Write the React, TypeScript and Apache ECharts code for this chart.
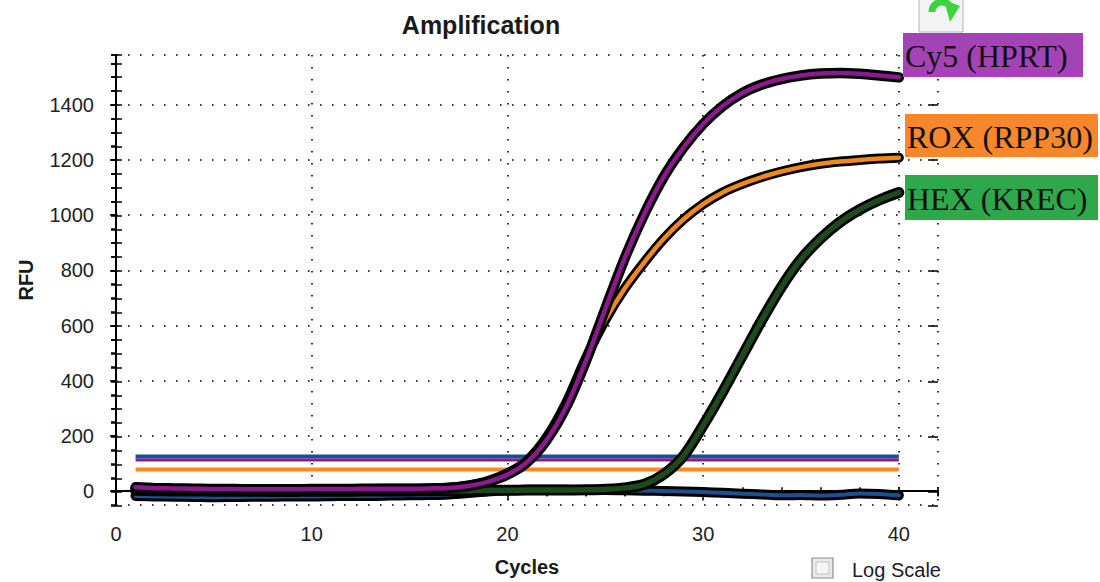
import React, { useEffect, useRef } from "react";
import * as echarts from "echarts";

// ---- data ----
const cycles = [1, 2, 3, 4, 5, 6, 7, 8, 9, 10, 11, 12, 13, 14, 15, 16, 17, 18, 19, 20, 21, 22, 23, 24, 25, 26, 27, 28, 29, 30, 31, 32, 33, 34, 35, 36, 37, 38, 39, 40];
const cy5Hprt = [14, 11, 10, 9, 8, 8, 7, 7, 7, 8, 8, 8, 9, 9, 9, 10, 12, 19, 34, 60, 105, 185, 305, 470, 660, 845, 1005, 1140, 1245, 1330, 1395, 1442, 1473, 1493, 1506, 1513, 1515, 1512, 1506, 1499];
const roxRpp30 = [10, 9, 8, 8, 7, 7, 7, 7, 7, 7, 8, 8, 8, 9, 9, 10, 13, 21, 37, 65, 110, 195, 320, 480, 620, 735, 830, 915, 985, 1040, 1082, 1113, 1138, 1158, 1174, 1186, 1194, 1200, 1205, 1208];
const hexKrec = [3, 2, 1, 1, 0, 0, 0, -1, -1, 0, 0, 0, 1, 1, 1, 2, 2, 2, 3, 3, 4, 4, 4, 5, 7, 12, 25, 62, 128, 238, 360, 490, 620, 740, 840, 915, 975, 1020, 1055, 1082];
const ntcBaseline = [-17, -19, -20, -21, -22, -21, -20, -20, -19, -19, -18, -17, -17, -16, -15, -14, -12, -7, -1, 3, 5, 5, 5, 4, 4, 3, 2, 1, -1, -3, -6, -9, -12, -15, -14, -16, -13, -8, -10, -15];
const thresholdValues = [126, 113, 79]; // blue, purple (Cy5), orange (ROX)
const thresholdSpan = [1, 40];
const labelTexts = ["Cy5 (HPRT)", "ROX (RPP30)", "HEX (KREC)"];
const titleText = "Amplification";
const xName = "Cycles";
const yName = "RFU";
const xRange = [0, 42];
const yRange = [-50, 1580];

// ---- styles ----
const thresholdColors = ["#1d4f8c", "#8c1a8e", "#ff8a1c"];
const thresholdWidths = [4, 3, 4];
const labelBoxColors = ["#a343b5", "#f7872d", "#2ea84b"];
const labelBoxes = [
  { x: 903, y: 33, w: 180, h: 44 },
  { x: 905, y: 114, w: 193, h: 43 },
  { x: 905, y: 175, w: 193, h: 45 },
];

const GRID = { left: 116, top: 55, right: 162, bottom: 76 };
const SANS = '"Liberation Sans", Arial, sans-serif';
const dotted = { color: "#000", width: 1.6, type: [1.6, 10.4] as any };

function pair(name: string, values: number[], inner: string, outerW: number, innerW: number, z: number) {
  const data = cycles.map((c, i) => [c, values[i]]);
  return [
    {
      name: name + "-outline",
      type: "line",
      data,
      smooth: 0.3,
      symbol: "none",
      silent: true,
      z,
      lineStyle: { color: "#000", width: outerW, cap: "round", join: "round" },
    },
    {
      name,
      type: "line",
      data,
      smooth: 0.3,
      symbol: "none",
      silent: true,
      z: z + 0.5,
      lineStyle: { color: inner, width: innerW, cap: "round", join: "round" },
    },
  ];
}

export default function App() {
  const ref = useRef<HTMLDivElement>(null);

  useEffect(() => {
    if (!ref.current) return;
    const chart = echarts.init(ref.current, undefined, { renderer: "svg" });

    const thresholdSeries = thresholdValues.map((v, i) => ({
      name: "threshold-" + i,
      type: "line",
      data: thresholdSpan.map((c) => [c, v]),
      symbol: "none",
      silent: true,
      z: 1 + i * 0.1,
      lineStyle: { color: thresholdColors[i], width: thresholdWidths[i] },
    }));

    const curveSeries = [
      ...pair("NTC", ntcBaseline, "#1f4f8e", 10, 4, 3),
      ...pair("HEX (KREC)", hexKrec, "#1d4a1c", 11, 5.5, 4),
      ...pair("ROX (RPP30)", roxRpp30, "#f0881c", 10, 4.5, 5),
      ...pair("Cy5 (HPRT)", cy5Hprt, "#8c1a8e", 10.5, 4.5, 6),
    ];

    const graphic: any[] = [
      {
        type: "text",
        x: 481,
        y: 25,
        z: 100,
        style: { text: titleText, font: `bold 25px ${SANS}`, fill: "#1a1a1a", align: "center", verticalAlign: "middle" },
      },
      // top-right toolbar icon
      { type: "rect", z: 100, shape: { x: 919, y: -2, width: 44, height: 34 }, style: { fill: "#f3f3f3", stroke: "#b4b4b4", lineWidth: 1 } },
      {
        type: "arc",
        z: 101,
        shape: { cx: 942, cy: 12, r: 10, startAngle: Math.PI * 1.0, endAngle: Math.PI * 1.95 },
        style: { stroke: "#3bd43b", lineWidth: 7, fill: null },
      },
      { type: "polygon", z: 101, shape: { points: [[944, 0], [960, 6], [950, 22]] }, style: { fill: "#3bd43b" } },
      // Log Scale checkbox
      { type: "rect", z: 100, shape: { x: 812, y: 558, width: 21, height: 20 }, style: { fill: "#e9e9e9", stroke: "#8e8e8e", lineWidth: 1.2 } },
      { type: "rect", z: 101, shape: { x: 816, y: 562, width: 13, height: 12 }, style: { fill: "#f6f6f6", stroke: "#c4c4c4", lineWidth: 1 } },
      {
        type: "text",
        x: 852,
        y: 570,
        z: 100,
        style: { text: "Log Scale", font: `20px ${SANS}`, fill: "#1c1c2c", align: "left", verticalAlign: "middle" },
      },
    ];
    labelTexts.forEach((t, i) => {
      const b = labelBoxes[i];
      graphic.push({
        type: "rect",
        z: 100,
        shape: { x: b.x, y: b.y, width: b.w, height: b.h },
        style: { fill: labelBoxColors[i] },
      });
      graphic.push({
        type: "text",
        z: 101,
        x: b.x + 2,
        y: b.y + b.h / 2 + 1,
        style: { text: t, font: `32px "Liberation Serif", "Times New Roman", serif`, fill: "#111", align: "left", verticalAlign: "middle" },
      });
    });

    const tickLine = { show: true, lineStyle: { color: "#000", width: 1.5 } };
    const noLine = { show: false };
    const noLabel = { show: false };
    const noSplit = { show: false };

    const option: any = {
      animation: false,
      backgroundColor: "#fff",
      grid: [
        { ...GRID, containLabel: false },
        { ...GRID, containLabel: false },
        { ...GRID, containLabel: false },
      ],
      xAxis: [
        {
          gridIndex: 0,
          type: "value",
          position: "bottom",
          min: xRange[0],
          max: xRange[1],
          interval: 10,
          name: xName,
          nameLocation: "middle",
          nameGap: 52,
          nameTextStyle: { fontFamily: SANS, fontSize: 20, fontWeight: "bold", color: "#1a1a1a" },
          axisLine: { show: true, lineStyle: { color: "#000", width: 2 } },
          axisTick: { show: true, inside: false, length: 8, lineStyle: { color: "#000", width: 1.5 } },
          axisLabel: { show: true, margin: 19, fontFamily: SANS, fontSize: 20, color: "#222", showMaxLabel: false, showMinLabel: true, formatter: (v: number) => String(v) },
          splitLine: { show: true, lineStyle: dotted },
        },
        {
          gridIndex: 0,
          type: "value",
          position: "top",
          min: xRange[0],
          max: xRange[1],
          interval: 2,
          axisLine: { show: true, lineStyle: { color: "#000", width: 1.5 } },
          axisTick: { ...tickLine, inside: true, length: 5 },
          axisLabel: noLabel,
          splitLine: noSplit,
        },
        {
          gridIndex: 1,
          type: "value",
          position: "bottom",
          min: xRange[0],
          max: xRange[1],
          interval: 2,
          axisLine: noLine,
          axisTick: { ...tickLine, inside: true, length: 5 },
          axisLabel: noLabel,
          splitLine: noSplit,
        },
        {
          gridIndex: 2,
          type: "value",
          position: "bottom",
          min: xRange[0],
          max: xRange[1],
          interval: 2,
          axisLine: noLine,
          axisTick: { ...tickLine, inside: false, length: 4 },
          axisLabel: noLabel,
          splitLine: noSplit,
        },
      ],
      yAxis: [
        {
          gridIndex: 0,
          type: "value",
          position: "left",
          min: yRange[0],
          max: yRange[1],
          splitNumber: 8,
          name: yName,
          nameLocation: "middle",
          nameGap: 80,
          nameRotate: 90,
          nameTextStyle: { fontFamily: SANS, fontSize: 20, fontWeight: "bold", color: "#1a1a1a" },
          axisLine: { show: true, lineStyle: { color: "#000", width: 2 } },
          axisTick: { show: true, inside: false, length: 6, lineStyle: { color: "#000", width: 1.5 } },
          axisLabel: { show: true, margin: 22, fontFamily: SANS, fontSize: 20, color: "#222", showMinLabel: false, showMaxLabel: false, formatter: (v: number) => String(v) },
          splitLine: { show: true, lineStyle: dotted },
        },
        {
          gridIndex: 0,
          type: "value",
          position: "right",
          min: yRange[0],
          max: yRange[1],
          interval: 50,
          axisLine: { show: true, lineStyle: { color: "#000", width: 1.5 } },
          axisTick: { ...tickLine, inside: true, length: 5 },
          axisLabel: noLabel,
          splitLine: noSplit,
        },
        {
          gridIndex: 1,
          type: "value",
          position: "left",
          min: yRange[0],
          max: yRange[1],
          interval: 50,
          axisLine: noLine,
          axisTick: { ...tickLine, inside: true, length: 6 },
          axisLabel: noLabel,
          splitLine: noSplit,
        },
        {
          gridIndex: 1,
          type: "value",
          position: "right",
          min: yRange[0],
          max: yRange[1],
          splitNumber: 8,
          axisLine: noLine,
          axisTick: { ...tickLine, inside: true, length: 10 },
          axisLabel: { show: false, showMinLabel: false, showMaxLabel: false },
          splitLine: noSplit,
        },
        {
          gridIndex: 2,
          type: "value",
          position: "left",
          min: yRange[0],
          max: yRange[1],
          interval: 50,
          axisLine: noLine,
          axisTick: { ...tickLine, inside: false, length: 5 },
          axisLabel: noLabel,
          splitLine: noSplit,
        },
      ],
      series: [...thresholdSeries, ...curveSeries].map((s) => ({ ...s, xAxisIndex: 0, yAxisIndex: 0 })),
      graphic,
    };

    chart.setOption(option);
    return () => chart.dispose();
  }, []);

  return (
    <div
      ref={ref}
      style={{ position: "absolute", left: 0, top: 0, width: 1100, height: 582, background: "#fff" }}
    />
  );
}
